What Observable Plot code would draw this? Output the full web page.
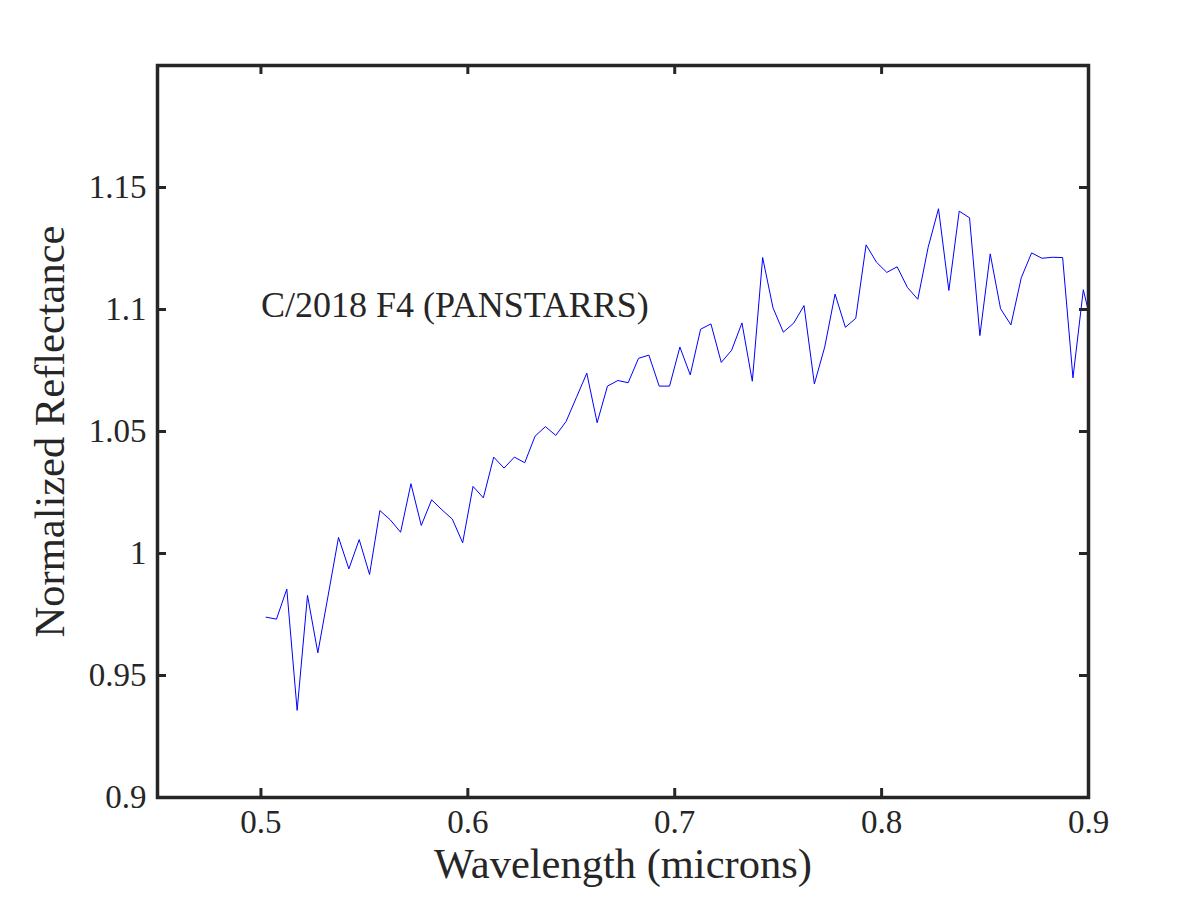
<!DOCTYPE html>
<html>
<head>
<meta charset="utf-8">
<script src="https://cdn.jsdelivr.net/npm/d3@7"></script>
<script src="https://cdn.jsdelivr.net/npm/@observablehq/plot@0.6"></script>
<style>
  html, body { margin: 0; padding: 0; background: #ffffff; }
  #chart svg { display: block; }
</style>
</head>
<body>
<div id="chart"></div>
<script>
// ---- data ----
const wavelength = [
  0.5025,0.5075,0.5125,0.5175,0.5225,0.5275,0.5325,0.5375,0.5425,0.5475,
  0.5525,0.5575,0.5625,0.5675,0.5725,0.5775,0.5825,0.5875,0.5925,0.5975,
  0.6025,0.6075,0.6125,0.6175,0.6225,0.6275,0.6325,0.6375,0.6425,0.6475,
  0.6525,0.6575,0.6625,0.6675,0.6725,0.6775,0.6825,0.6875,0.6925,0.6975,
  0.7025,0.7075,0.7125,0.7175,0.7225,0.7275,0.7325,0.7375,0.7425,0.7475,
  0.7525,0.7575,0.7625,0.7675,0.7725,0.7775,0.7825,0.7875,0.7925,0.7975,
  0.8025,0.8075,0.8125,0.8175,0.8225,0.8275,0.8325,0.8375,0.8425,0.8475,
  0.8525,0.8575,0.8625,0.8675,0.8725,0.8775,0.8825,0.8875,0.8925,0.8975,
  0.9025
];
const reflectance = [
  0.9739,0.9731,0.9854,0.9357,0.9828,0.9593,0.9829,1.0066,0.9937,1.0057,
  0.9914,1.0176,1.0138,1.0087,1.0286,1.0115,1.0220,1.0179,1.0141,1.0044,
  1.0275,1.0228,1.0395,1.0350,1.0395,1.0372,1.0481,1.0520,1.0484,1.0541,
  1.0640,1.0739,1.0536,1.0686,1.0709,1.0700,1.0800,1.0813,1.0686,1.0686,
  1.0846,1.0732,1.0919,1.0941,1.0783,1.0833,1.0945,1.0706,1.1213,1.1007,
  1.0907,1.0944,1.1016,1.0695,1.0846,1.1063,1.0927,1.0964,1.1265,1.1194,
  1.1152,1.1175,1.1090,1.1042,1.1255,1.1413,1.1078,1.1403,1.1376,1.0893,
  1.1228,1.1003,1.0937,1.1130,1.1232,1.1210,1.1214,1.1213,1.0720,1.1081,
  1.0903
];
const xTicks = [0.5, 0.6, 0.7, 0.8, 0.9];
const xTickLabels = ["0.5", "0.6", "0.7", "0.8", "0.9"];
const yTicks = [0.9, 0.95, 1, 1.05, 1.1, 1.15];
const yTickLabels = ["0.9", "0.95", "1", "1.05", "1.1", "1.15"];
const xDomain = [0.45, 0.9];
const yDomain = [0.9, 1.2];
const xTitle = "Wavelength (microns)";
const yTitle = "Normalized Reflectance";
const annotation = [{x: 0.5, y: 1.1, text: "C/2018 F4 (PANSTARRS)"}];

// ---- layout / style ----
const W = 1200, H = 900;
const mL = 157, mR = 112, mT = 65, mB = 103;
const plotW = W - mL - mR, plotH = H - mT - mB;
const tickLen = 9;
const ink = "#262626";
const font = "'Liberation Serif', 'Times New Roman', serif";

const data = wavelength.map((w, i) => ({w, r: reflectance[i]}));

const chart = Plot.plot({
  width: W, height: H,
  marginLeft: mL, marginRight: mR, marginTop: mT, marginBottom: mB,
  style: {fontFamily: font, color: ink, background: "#ffffff"},
  x: {domain: xDomain},
  y: {domain: yDomain},
  marks: [
    Plot.line(data, {x: "w", y: "r", stroke: "#0000ff", strokeWidth: 1, clip: true}),
    // inward ticks on all four sides
    Plot.tickX(xTicks, {x: d => d, stroke: ink, strokeWidth: 3, insetTop: plotH - tickLen}),
    Plot.tickX(xTicks, {x: d => d, stroke: ink, strokeWidth: 3, insetBottom: plotH - tickLen}),
    Plot.tickY(yTicks, {y: d => d, stroke: ink, strokeWidth: 3, insetRight: plotW - tickLen}),
    Plot.tickY(yTicks, {y: d => d, stroke: ink, strokeWidth: 3, insetLeft: plotW - tickLen}),
    Plot.frame({stroke: ink, strokeWidth: 3.5}),
    Plot.axisX({
      anchor: "bottom", ticks: xTicks, tickSize: 0, tickPadding: 12,
      tickFormat: (d) => xTickLabels[xTicks.indexOf(d)],
      fontSize: 33, fontFamily: font, fill: ink, label: null
    }),
    Plot.axisY({
      anchor: "left", ticks: yTicks, tickSize: 0, tickPadding: 11,
      tickFormat: (d) => yTickLabels[yTicks.indexOf(d)],
      fontSize: 33, fontFamily: font, fill: ink, label: null
    }),
    Plot.text([xTitle], {
      frameAnchor: "bottom", lineAnchor: "bottom", textAnchor: "middle",
      dy: 80, fontSize: 42.5, fontFamily: font, fill: ink
    }),
    Plot.text([yTitle], {
      frameAnchor: "left", lineAnchor: "bottom", textAnchor: "middle",
      rotate: -90, dx: -94, fontSize: 42.5, fontFamily: font, fill: ink
    }),
    Plot.text(annotation, {
      x: "x", y: "y", text: "text", textAnchor: "start", lineAnchor: "bottom",
      dy: 7, fontSize: 36, fontFamily: font, fill: ink
    })
  ]
});
document.getElementById("chart").appendChild(chart);
</script>
</body>
</html>
